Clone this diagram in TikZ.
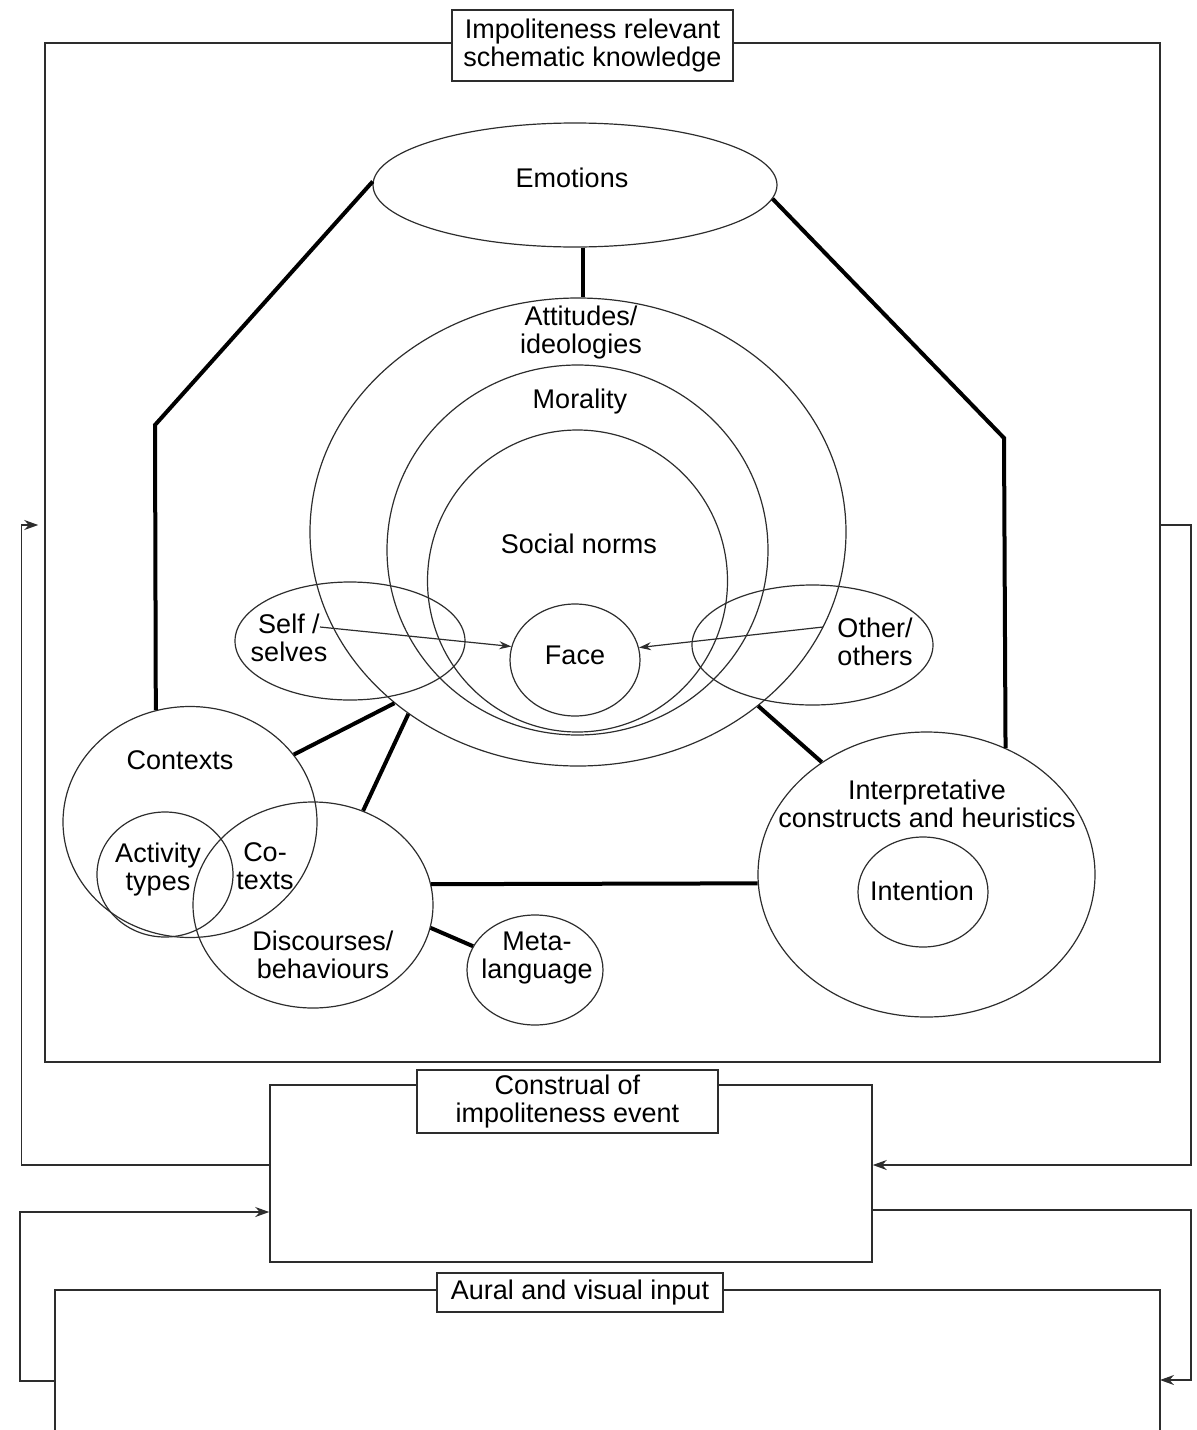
\documentclass[tikz,border=0pt]{standalone}
\usepackage{fontspec}
\setmainfont{Liberation Sans}
\usetikzlibrary{shapes.geometric,arrows.meta}
\definecolor{inkgray}{RGB}{45,45,45}

\begin{document}
\begin{tikzpicture}[x=0.5pt, y=-0.5pt,
    every node/.style={font=\fontsize{13.5}{14}\selectfont, inner sep=0pt, align=center},
    ring/.style={ellipse, draw=inkgray, line width=0.6pt},
    frame/.style={rectangle, draw=inkgray, line width=0.75pt},
    caption/.style={rectangle, draw=inkgray, fill=white, line width=0.75pt},
    link/.style={line width=2pt, black},
    pointer/.style={draw=inkgray, line width=0.6pt, -{Stealth[length=6pt,width=4pt]}},
    feed/.style={draw=inkgray, line width=0.75pt, -{Stealth[length=7pt,width=5pt]}}]
\useasboundingbox (0,0) rectangle (1197,1430);

% frames and feedback loops
\node[frame, minimum width=557.5pt, minimum height=509.5pt] (knowledge) at (602.5,552.5) {};
\node[frame, minimum width=301pt,   minimum height=88.5pt]  (construal) at (571,1173.5)  {};
\coordinate (inputNW) at (55,1290);
\coordinate (inputNE) at (1160,1290);
\draw[draw=inkgray, line width=0.75pt] (inputNW |- 0,1430) -- (inputNW) -- (inputNE) -- (inputNE |- 0,1430);

\draw[feed]                 (knowledge.east |- 0,525)  -- ++(30,0)   |- (construal.east |- 0,1165);
\draw[feed, shorten >=3pt]  (construal.west |- 0,1165) -- ++(-248,0) |- (knowledge.west |- 0,525);
\draw[feed]                 (construal.east |- 0,1210) -- ++(318,0)  |- (inputNE |- 0,1380);
\draw[feed]                 (inputNW |- 0,1381)        -- ++(-35,0)  |- (construal.west |- 0,1212);

\node[caption, minimum width=140.5pt, minimum height=35.5pt] (knowtitle)      at (592.5,45.5)   {Impoliteness relevant\\schematic knowledge};
\node[caption, minimum width=150.5pt, minimum height=31.5pt] (construaltitle) at (567.5,1101.5) {Construal of\\impoliteness event};
\node[caption, minimum width=143pt,   minimum height=19.5pt] (inputtitle)     at (580,1292.5)   {Aural and visual input};

% rings
\node[ring, minimum width=202pt,   minimum height=62pt]    (emotions)   at (575,185)     {};
\node[ring, minimum width=268pt,   minimum height=234pt]   (attitudes)  at (578,532)     {};
\node[ring, minimum width=190.5pt, minimum height=185pt]   (morality)   at (577.5,550)   {};
\node[ring, minimum width=150pt,   minimum height=151pt]   (norms)      at (577.5,581)   {};
\node[ring, minimum width=65pt,    minimum height=56pt]    (face)       at (575,660)     {};
\node[ring, minimum width=115pt,   minimum height=59pt]    (self)       at (350,641)     {};
\node[ring, minimum width=120.5pt, minimum height=60pt]    (other)      at (812.5,645)   {};
\node[ring, minimum width=127pt,   minimum height=115.5pt] (contexts)   at (190,822)     {};
\node[ring, minimum width=68pt,    minimum height=62.5pt]  (activity)   at (165,874.5)   {};
\node[ring, minimum width=120pt,   minimum height=103pt]   (discourses) at (313,905)     {};
\node[ring, minimum width=68pt,    minimum height=55pt]    (meta)       at (535,970)     {};
\node[ring, minimum width=168.5pt, minimum height=142.5pt] (interp)     at (926.5,874.5) {};
\node[ring, minimum width=65pt,    minimum height=55pt]    (intention)  at (923,892)     {};

% labels
\node (emotionstxt)   at (572,178) {Emotions};
\node (attitudestxt)  at (581,333) {Attitudes/\\ideologies};
\node (moralitytxt)   at (580,402) {Morality};
\node (normstxt)      at (579,544) {Social norms};
\node (facetxt)       at (575,655) {Face};
\node (selftxt)       at (289,638) {Self /\\selves};
\node (othertxt)      at (875,642) {Other/\\others};
\node (contextstxt)   at (180,760) {Contexts};
\node (activitytxt)   at (158,870) {Activity\\types};
\node (cotextstxt)    at (265,866) {Co-\\texts};
\node (discoursestxt) at (323,955) {Discourses/\\behaviours};
\node (metatxt)       at (537,958) {Meta-\\language};
\node (interptxt)     at (927,804) {Interpretative\\constructs and heuristics};
\node (intentiontxt)  at (922,891) {Intention};

% links
\coordinate (bendL) at (155,425);
\coordinate (bendR) at (1004,438);
\draw[link] (emotions.179)     -- (bendL) -- (contexts.107.5);
\draw[link] (emotions.356.3)   -- (bendR) -- (interp.58.7);
\draw[link] (emotions.277.3)   -- (emotions.277.3 |- attitudes.north);
\draw[link] (attitudes.223.7)  -- (contexts.33.8);
\draw[link] (attitudes.227.4)  -- (discourses.62.2);
\draw[link] (attitudes.316.6)  -- (interp.133.7);
\draw[link] (discourses.10.5)  -- (interp.183.5);
\draw[link] (discourses.349.4) -- (meta.159);

\coordinate (selfstart)  at (320,627);
\coordinate (otherstart) at (823,627);
\draw[pointer] (selfstart)  -- (face.168.7);
\draw[pointer] (otherstart) -- (face.11.3);
\end{tikzpicture}
\end{document}
